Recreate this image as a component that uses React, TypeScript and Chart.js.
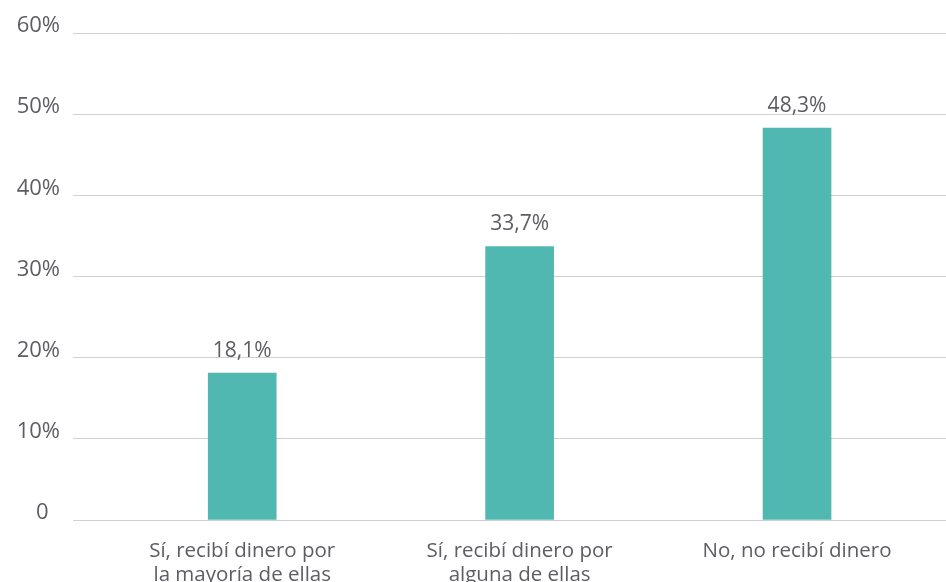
import React, { useEffect, useRef } from "react";
import { Chart, registerables } from "chart.js";

Chart.register(...registerables);

const categories: string[][] = [
  ["Sí, recibí dinero por", "la mayoría de ellas"],
  ["Sí, recibí dinero por", "alguna de ellas"],
  ["No, no recibí dinero"],
];
const values: number[] = [18.1, 33.7, 48.3];
const yTicks: number[] = [0, 10, 20, 30, 40, 50, 60];

const TEXT = "#5d5d63";
const FONT = "'Open Sans', sans-serif";

const valueLabels = {
  id: "valueLabels",
  afterDatasetsDraw(chart: any) {
    const ctx = chart.ctx;
    const meta = chart.getDatasetMeta(0);
    ctx.save();
    ctx.font = `21px ${FONT}`;
    ctx.fillStyle = TEXT;
    ctx.textAlign = "center";
    ctx.textBaseline = "alphabetic";
    meta.data.forEach((bar: any, i: number) => {
      const txt = values[i].toFixed(1).replace(".", ",") + "%";
      ctx.fillText(txt, bar.x, bar.y - 16);
    });
    ctx.restore();
  },
};

export default function App() {
  const ref = useRef<HTMLCanvasElement>(null);
  useEffect(() => {
    document.body.style.margin = "0";
    const chart = new Chart(ref.current!, {
      type: "bar",
      data: {
        datasets: [
          {
            data: values.map((v, i) => ({ x: i, y: v })),
            backgroundColor: "#50b8b0",
            barThickness: 68,
          },
        ],
      },
      options: {
        animation: false,
        responsive: false,
        maintainAspectRatio: false,
        layout: { padding: { top: 33, right: 0, left: 0, bottom: 0 } },
        plugins: { legend: { display: false }, tooltip: { enabled: false } },
        scales: {
          x: {
            type: "linear",
            offset: false,
            min: -0.61,
            max: 2.537,
            grid: { display: false },
            border: { display: false },
            afterBuildTicks: (scale: any) => {
              scale.ticks = categories.map((_, i) => ({ value: i }));
            },
            afterFit: (scale: any) => {
              scale.height = 80;
            },
            ticks: {
              autoSkip: false,
              maxRotation: 0,
              padding: 11,
              color: TEXT,
              font: { family: FONT, size: 20.5, lineHeight: 1.17 },
              callback: (v: any) => categories[v as number] ?? "",
            },
          },
          y: {
            min: 0,
            max: 60,
            afterBuildTicks: (scale: any) => {
              scale.ticks = yTicks.map((v) => ({ value: v }));
            },
            afterFit: (scale: any) => {
              scale.width = 73;
            },
            grid: { color: "#d0d0d0", drawTicks: false, lineWidth: 1 },
            border: { display: false },
            ticks: {
              padding: 13,
              labelOffset: -7,
              color: TEXT,
              font: { family: FONT, size: 22 },
              callback: (v: any) => (v === 0 ? "0  " : v + "%"),
            },
          },
        },
      },
      plugins: [valueLabels],
    });
    return () => chart.destroy();
  }, []);
  return (
    <div style={{ position: "absolute", left: 0, top: 0, width: 946, height: 600 }}>
      <canvas ref={ref} width={946} height={600} style={{ width: 946, height: 600 }} />
    </div>
  );
}
